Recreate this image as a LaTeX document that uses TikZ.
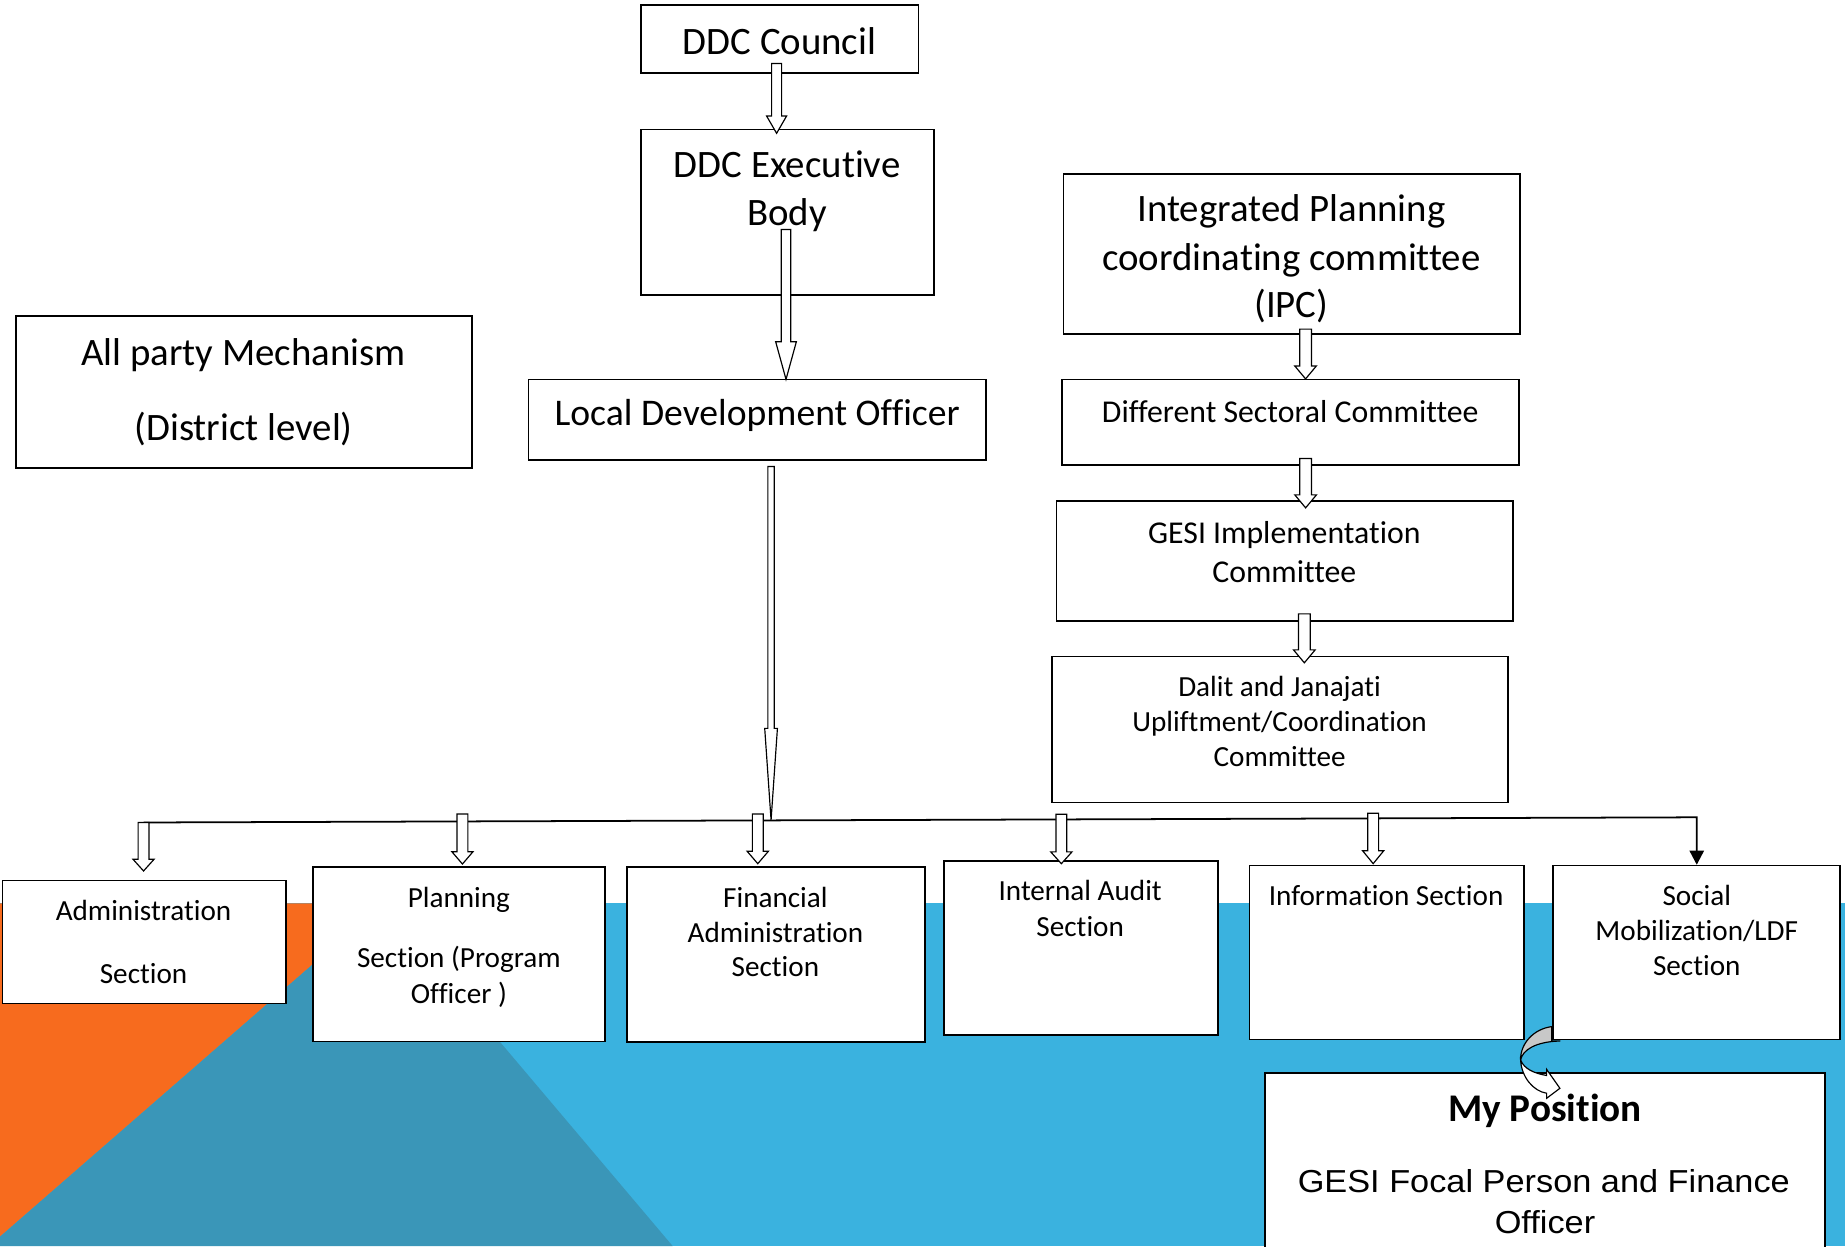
\documentclass[tikz,border=0pt]{standalone}
\usepackage{fontspec}
\setmainfont{Carlito}[Ligatures={NoCommon,NoContextual}]
\newfontfamily\arialf[FakeStretch=1.08]{Liberation Sans}
\usetikzlibrary{calc,arrows.meta}
\definecolor{bgblue}{HTML}{3AB2DF}
\definecolor{bgorange}{HTML}{F76B1E}
\definecolor{bgteal}{HTML}{3A96B8}
\definecolor{curvgray}{HTML}{C8C8C8}
\tikzset{
  box/.style={draw=black, line width=1.4pt, fill=white, inner sep=0pt, outer sep=0pt, anchor=north west},
  tl/.style={anchor=base, inner sep=0pt, outer sep=0pt, font=\fontsize{#1pt}{#1pt}\selectfont},
  tlb/.style={anchor=base, inner sep=0pt, outer sep=0pt, font=\bfseries\fontsize{#1pt}{#1pt}\selectfont},
  tla/.style={anchor=base, inner sep=0pt, outer sep=0pt, font=\arialf\fontsize{#1pt}{#1pt}\selectfont},
  blockarr/.style={draw=black, line width=1pt, fill=white, line join=miter},
  barline/.style={draw=black, line width=1.5pt},
}
\newcommand{\mkbox}[5]{\node[box, minimum width={#4-#2}, minimum height={#5-#3}] (#1) at (#2,#3) {};}
% start, end, shaft half width, head half width, head length
\newcommand{\barrow}[5]{%
  \draw[blockarr] let \p1=(#1), \p2=(#2) in
   ({\x1-#3},{\y1}) -- ({\x1-#3},{\y2+#5}) -- ({\x1-#4},{\y2+#5}) -- ({\x1},{\y2})
   -- ({\x1+#4},{\y2+#5}) -- ({\x1+#3},{\y2+#5}) -- ({\x1+#3},{\y1}) -- cycle;}
\begin{document}
\begin{tikzpicture}[x=1pt,y=-1pt]
\useasboundingbox (0,0) rectangle (1568,1059);
% background
\fill[white] (0,0) rectangle (1568,1059);
\fill[bgblue] (0,767.7) rectangle (1568,1059);
\fill[bgorange] (0,767.7) -- (325.3,767.7) -- (0,1051) -- cycle;
\fill[bgteal] (325.3,767.7) -- (571.7,1059) -- (0,1059) -- (0,1051) -- cycle;

% boxes
\mkbox{council}{544.5}{4.5}{780.5}{62}
\mkbox{exec}{544.5}{110}{793.8}{250.7}
\mkbox{ipc}{903.7}{148}{1291.8}{284}
\mkbox{allparty}{13.5}{268.6}{401}{397.6}
\mkbox{ldo}{449}{322.4}{837.7}{391}
\mkbox{dsc}{902.8}{322.5}{1290.9}{395}
\mkbox{gesi}{898}{426}{1286}{528}
\mkbox{dalit}{894.3}{558}{1281.8}{682}
\mkbox{admin}{2}{748.4}{243}{852.7}
\mkbox{planning}{266}{737.1}{514}{885.2}
\mkbox{financial}{533}{737}{786}{885.8}
\mkbox{audit}{802}{732}{1035}{879.8}
\mkbox{info}{1062}{735.7}{1295}{883.3}
\mkbox{social}{1320}{735.7}{1564}{883.3}
\mkbox{mypos}{1075}{912}{1551}{1075}

% texts
\node[tl=33] (tcouncil) at (662.5,46) {DDC Council};
\node[tl=33] (texec1) at (669,151) {DDC Executive};
\node[tl=33] (texec2) at (669,191.5) {Body};
\node[tl=33] (tipc1) at (1097.5,188.5) {Integrated Planning};
\node[tl=33] (tipc2) at (1097.5,229.5) {coordinating committee};
\node[tl=33] (tipc3) at (1097.5,270) {(IPC)};
\node[tl=33] (tap1) at (207,311) {All party Mechanism};
\node[tl=33] (tap2) at (207,374) {(District level)};
\node[tl=32] (tldo) at (643.5,362) {Local Development Officer};
\node[tl=27] (tdsc) at (1096.5,359) {Different Sectoral Committee};
\node[tl=27] (tgesi1) at (1091.5,462) {GESI Implementation};
\node[tl=27] (tgesi2) at (1091.5,495) {Committee};
\node[tl=24.8] (tdal1) at (1087.5,592) {Dalit and Janajati};
\node[tl=24.8] (tdal2) at (1087.5,621.5) {Upliftment/Coordination};
\node[tl=24.8] (tdal3) at (1087.5,651.5) {Committee};
\node[tl=24.8] (tadm1) at (122,782.6) {Administration};
\node[tl=24.8] (tadm2) at (122,835.8) {Section};
\node[tl=24.8] (tpl1) at (390,771.5) {Planning};
\node[tl=24.8] (tpl2) at (390,822.5) {Section (Program};
\node[tl=24.8] (tpl3) at (390,852.5) {Officer )};
\node[tl=24.8] (tfin1) at (659,771) {Financial};
\node[tl=24.8] (tfin2) at (659,800.8) {Administration};
\node[tl=24.8] (tfin3) at (659,830.2) {Section};
\node[tl=24.8] (taud1) at (918,765) {Internal Audit};
\node[tl=24.8] (taud2) at (918,795.5) {Section};
\node[tl=24.8] (tinfo) at (1178,769.3) {Information Section};
\node[tl=24.8] (tsoc1) at (1442,769.3) {Social};
\node[tl=24.8] (tsoc2) at (1442,799) {Mobilization/LDF};
\node[tl=24.8] (tsoc3) at (1442,828.8) {Section};
\node[tlb=33.3] (tmy1) at (1313,953) {My Position};
\node[tla=27] (tmy2) at (1312,1013.5) {GESI Focal Person and Finance};
\node[tla=27] (tmy3) at (1313,1048.5) {Officer};

% bar and junction coordinates
\coordinate (barL) at (122,699);
\coordinate (barR) at (1442,694.6);
\coordinate (bj) at (655.8,697);
\coordinate (b2) at (393,691.8);
\coordinate (b3) at (644,691.8);
\coordinate (b4) at (902,692);
\coordinate (b5) at (1167,691.2);
\draw[barline, -{Triangle[length=12pt,width=12.2pt]}] (barL) -- (barR) -- ([yshift=0.8pt]social.north -| barR);

% block arrows
\barrow{[xshift=-2.5pt,yshift=8pt]council.south}{[yshift=-3.3pt]exec.north}{4.25pt}{8.5pt}{14.7pt}
\barrow{[xshift=-1.15pt,yshift=55.7pt]exec.south}{ldo.north}{4pt}{8.8pt}{32pt}
\barrow{[xshift=11.95pt,yshift=-5.5pt]ldo.south}{bj}{2.7pt}{5.4pt}{78pt}
\barrow{[xshift=11.8pt,yshift=4.3pt]ipc.south}{[yshift=0.5pt]dsc.north}{5pt}{9.2pt}{11pt}
\barrow{[xshift=12.75pt,yshift=5.4pt]dsc.south}{[yshift=-5.6pt]gesi.north}{5pt}{9.2pt}{11pt}
\barrow{[xshift=16.5pt,yshift=6.3pt]gesi.south}{[yshift=-5.3pt]dalit.north}{5pt}{9.2pt}{11pt}
\barrow{barL}{[yshift=8.2pt]admin.north}{4.6pt}{9pt}{10pt}
\barrow{b2}{[yshift=2.8pt]planning.north}{4.6pt}{9pt}{10.5pt}
\barrow{b3}{[yshift=3pt]financial.north}{4.6pt}{9pt}{10.5pt}
\barrow{b4}{[yshift=-2pt]audit.north}{4.6pt}{9pt}{10pt}
\barrow{b5}{[yshift=1.7pt]info.north}{4.6pt}{9pt}{11pt}

% curved arrow from social to my position
\begin{scope}[shift={(social.south west)}]
\filldraw[fill=curvgray, draw=black, line width=1pt, line join=round]
  (-1.3,-10.8) .. controls (-16,-9) and (-28,3) .. (-27.7,17.5)
  .. controls (-26,9) and (-15,2) .. (5.7,1.4) -- (-1.3,1.4) -- cycle;
\filldraw[fill=white, draw=black, line width=1pt, line join=miter]
  (-27.7,17.5) .. controls (-27,32) and (-17,44) .. (-5.6,45.8)
  -- (-5.6,50.1) -- (5.7,41.6) -- (-5.6,25.5) -- (-5.6,30.7)
  .. controls (-16,29) and (-25,25) .. (-27.7,17.5) -- cycle;
\end{scope}
\end{tikzpicture}
\end{document}
